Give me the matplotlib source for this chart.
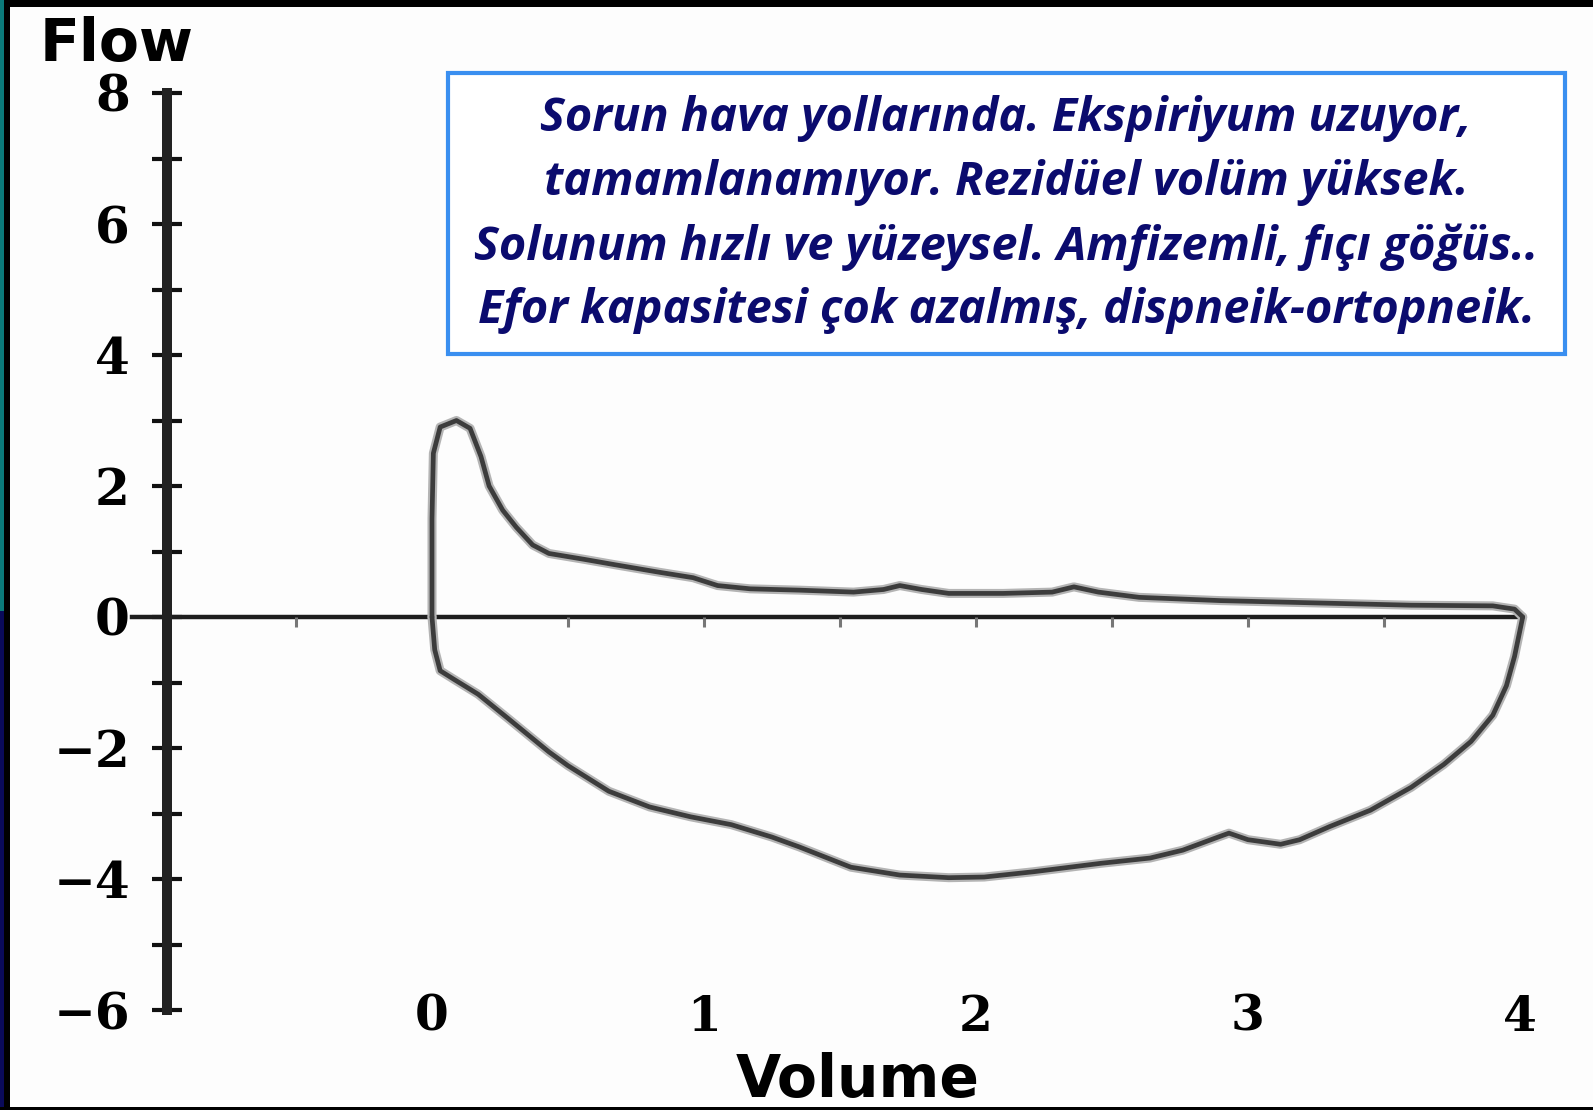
import matplotlib
matplotlib.use("Agg")
import matplotlib.pyplot as plt
from matplotlib.patches import Rectangle

# ---------------- data ----------------
# expiratory limb (upper, positive flow)
exp_volume = [0.0, 0.0, 0.0, 0.005, 0.03, 0.09, 0.14, 0.18, 0.21, 0.26, 0.31, 0.37,
              0.43, 0.56, 0.67, 0.84, 0.96, 1.05, 1.17, 1.35, 1.55, 1.66, 1.72, 1.80,
              1.90, 2.10, 2.28, 2.36, 2.45, 2.60, 2.90, 3.20, 3.60, 3.90, 3.98, 4.01]
exp_flow = [0.0, 0.5, 1.5, 2.5, 2.9, 3.0, 2.88, 2.45, 2.0, 1.63, 1.37, 1.1,
            0.97, 0.88, 0.80, 0.68, 0.60, 0.48, 0.43, 0.41, 0.38, 0.42, 0.48, 0.42,
            0.36, 0.36, 0.38, 0.46, 0.38, 0.30, 0.25, 0.22, 0.18, 0.17, 0.12, 0.0]
# inspiratory limb (lower, negative flow)
insp_volume = [0.0, 0.01, 0.03, 0.08, 0.17, 0.28, 0.43, 0.50, 0.65, 0.80, 0.95, 1.10,
               1.25, 1.35, 1.54, 1.72, 1.90, 2.03, 2.21, 2.46, 2.64, 2.76, 2.89, 2.93,
               3.00, 3.12, 3.19, 3.30, 3.45, 3.60, 3.72, 3.82, 3.90, 3.95, 3.98, 4.00, 4.01]
insp_flow = [0.0, -0.5, -0.82, -0.95, -1.18, -1.55, -2.06, -2.27, -2.66, -2.90, -3.05, -3.17,
             -3.36, -3.51, -3.82, -3.94, -3.98, -3.97, -3.89, -3.76, -3.68, -3.56, -3.36, -3.30,
             -3.40, -3.47, -3.40, -3.20, -2.95, -2.60, -2.25, -1.90, -1.50, -1.05, -0.60, -0.20, 0.0]

y_ticks = [-6, -5, -4, -3, -2, -1, 0, 1, 2, 3, 4, 5, 6, 7, 8]
y_labels = ["\u22126", "", "\u22124", "", "\u22122", "", "0", "", "2", "", "4", "", "6", "", "8"]
x_ticks = [0, 1, 2, 3, 4]
x_labels = ["0", "1", "2", "3", "4"]
zero_line_marks = [-0.5, 0.5, 1.0, 1.5, 2.0, 2.5, 3.0, 3.5]

y_title = "Flow"
x_title = "Volume"
note_lines = [
    "Sorun hava yollarında. Ekspiriyum uzuyor,",
    "tamamlanamıyor. Rezidüel volüm yüksek.",
    "Solunum hızlı ve yüzeysel. Amfizemli, fıçı göğüs..",
    "Efor kapasitesi çok azalmış, dispneik-ortopneik.",
]

# ---------------- layout ----------------
W, H = 1593, 1110
X0, XU, Y0, YU = 432, 272, 617, 65.5   # pixel origin / pixels per unit

fig = plt.figure(figsize=(W / 100, H / 100), dpi=100, facecolor="#fdfdfd")
ax = fig.add_axes([0, 0, 1, 1])
ax.set_facecolor("#fdfdfd")
ax.set_xlim(-X0 / XU, (W - X0) / XU)
ax.set_ylim(-(H - Y0) / YU, Y0 / YU)

for s in ["top", "right"]:
    ax.spines[s].set_visible(False)
ax.spines["left"].set_position(("data", (167 - X0) / XU))
ax.spines["left"].set_bounds(-6, 8)
ax.spines["left"].set_linewidth(7.2)
ax.spines["left"].set_color("#222222")
ax.spines["bottom"].set_position(("data", -5.75))
ax.spines["bottom"].set_visible(False)

tick_font = dict(family="DejaVu Serif", fontweight="heavy", color="black")
ax.set_yticks(y_ticks)
ax.set_yticklabels(y_labels, fontsize=36, **tick_font)
ax.tick_params(axis="y", direction="inout", length=22.3, width=3, color="#111111", pad=15.5)
ax.set_xticks(x_ticks)
ax.set_xticklabels(x_labels, fontsize=35, **tick_font)
ax.tick_params(axis="x", length=0, pad=0)

# zero line
ax.axhline(0, xmin=132 / W, xmax=1522 / W, color="#1e1e1e", lw=3.2, zorder=2)
ax.plot(zero_line_marks, [0] * len(zero_line_marks), ls="none", marker=3, ms=7,
        mew=2.2, color="#777777", zorder=2)

# loop (soft halo + dark stroke to mimic the scan)
for xs, ys in [(exp_volume, exp_flow), (insp_volume, insp_flow)]:
    ax.plot(xs, ys, color="#b4b4b4", lw=6.5, solid_capstyle="round",
            solid_joinstyle="round", zorder=3)
    ax.plot(xs, ys, color="#3c3c3c", lw=3.4, solid_capstyle="round",
            solid_joinstyle="round", zorder=4)

# axis titles
fig.text(40 / W, 1 - 45 / H, y_title, ha="left", va="center", fontsize=42,
         family="DejaVu Sans", fontweight="heavy", color="black")
fig.text(858 / W, 1 - 1080 / H, x_title, ha="center", va="center", fontsize=42,
         family="DejaVu Sans", fontweight="heavy", color="black")

# note box
box = Rectangle((448 / W, 1 - 354 / H), (1565 - 448) / W, (354 - 73) / H,
                transform=fig.transFigure, facecolor="white", edgecolor="#3a8ff0",
                lw=3, zorder=5)
fig.add_artist(box)
line_y = [119, 183, 247, 310]
texts = []
for t, yy in zip(note_lines, line_y):
    texts.append(fig.text(1006 / W, 1 - yy / H, t, ha="center", va="center",
                          fontsize=26, family="Open Sans", style="italic",
                          fontweight="bold", color="#0b0b6e", zorder=6))
fig.canvas.draw()
r = fig.canvas.get_renderer()
wpx = texts[2].get_window_extent(r).width
scale = 1066 / wpx
for t in texts:
    t.set_fontsize(26 * scale)

# frame borders of the scanned slide
for (x, y, w, h, c) in [(0, 1 - 7 / H, 1, 7 / H, "black"),
                        (0, 0.45, 4 / W, 0.55, "#0b7a7a"),
                        (0, 0, 4 / W, 0.45, "#0a0a5a"),
                        (4 / W, 0, 6 / W, 1, "black"),
                        (0, 0, 1, 3 / H, "black")]:
    fig.add_artist(Rectangle((x, y), w, h, transform=fig.transFigure,
                             facecolor=c, edgecolor="none", zorder=10))

fig.savefig("out.png", dpi=100, facecolor=fig.get_facecolor())
